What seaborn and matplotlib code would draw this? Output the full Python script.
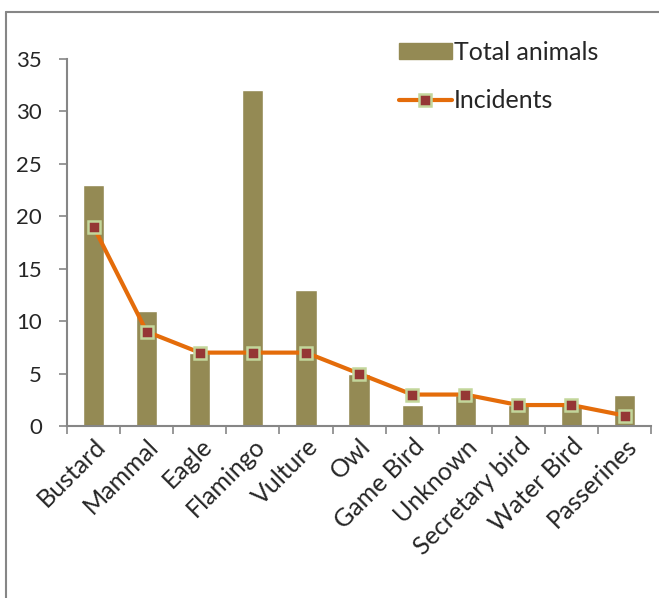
import matplotlib
matplotlib.use("Agg")
import matplotlib.pyplot as plt
import seaborn as sns
import pandas as pd
from matplotlib.lines import Line2D

categories = ["Bustard", "Mammal", "Eagle", "Flamingo", "Vulture", "Owl",
              "Game Bird", "Unknown", "Secretary bird", "Water Bird", "Passerines"]
total_animals = [23, 11, 7, 32, 13, 5, 2, 3, 2, 2, 3]
incidents = [19, 9, 7, 7, 7, 5, 3, 3, 2, 2, 1]

df = pd.DataFrame({"category": categories, "total": total_animals, "incidents": incidents})

sns.set_theme(style="white")
plt.rcParams["font.family"] = ["Lato", "DejaVu Sans"]

bar_color = "#948A54"
line_color = "#E46C0A"
axis_gray = "#868686"

fig = plt.figure(figsize=(6.59, 5.98), dpi=100)
ax = fig.add_axes([0.1017, 0.2876, 0.8863, 0.6137])

sns.barplot(data=df, x="category", y="total", color=bar_color, saturation=1,
            width=0.4, ax=ax, label="Total animals")
sns.lineplot(x=list(range(len(categories))), y=incidents, color=line_color,
             linewidth=3, marker="s", markersize=9, markerfacecolor="#953735",
             markeredgecolor="#C3D69B", markeredgewidth=1.8, ax=ax, label="Incidents")

ax.set_ylim(0, 35)
ax.set_xlim(-0.5, len(categories) - 0.5)
ax.set_yticks(range(0, 36, 5))
ax.set_xlabel("")
ax.set_ylabel("")

for s in ["top", "right"]:
    ax.spines[s].set_visible(False)
for s in ["left", "bottom"]:
    ax.spines[s].set_color(axis_gray)
    ax.spines[s].set_linewidth(1.5)

ax.tick_params(axis="y", which="major", length=6, width=1.2, color=axis_gray,
               labelsize=16, pad=12, left=True, direction="out")
ax.set_xticks(range(len(categories)))
ax.set_xticks([i - 0.5 for i in range(len(categories) + 1)], minor=True)
ax.tick_params(axis="x", which="major", length=0, labelsize=18, pad=6)
ax.tick_params(axis="x", which="minor", length=6, width=1.2, color=axis_gray,
               bottom=True, direction="out")
for lbl in ax.get_xticklabels():
    lbl.set_rotation(45)
    lbl.set_ha("right")
    lbl.set_rotation_mode("anchor")

handles = [plt.Rectangle((0, 0), 1, 1, color=bar_color),
           Line2D([0], [0], color=line_color, linewidth=3, marker="s", markersize=9,
                  markerfacecolor="#953735", markeredgecolor="#C3D69B", markeredgewidth=1.8)]
ax.legend(handles, ["Total animals", "Incidents"], loc="upper left",
          bbox_to_anchor=(0.53, 1.11), frameon=False, fontsize=18,
          handlelength=2.1, handleheight=0.6, handletextpad=0.1, labelspacing=1.0)

# Outline of the chart area along the top and left edges
fig.add_artist(Line2D([0.009, 1.0], [0.980, 0.980], color=axis_gray, linewidth=1.5,
                      transform=fig.transFigure))
fig.add_artist(Line2D([0.009, 0.009], [0.0, 0.980], color=axis_gray, linewidth=1.5,
                      transform=fig.transFigure))

fig.savefig("out.png", dpi=100, facecolor="white")
